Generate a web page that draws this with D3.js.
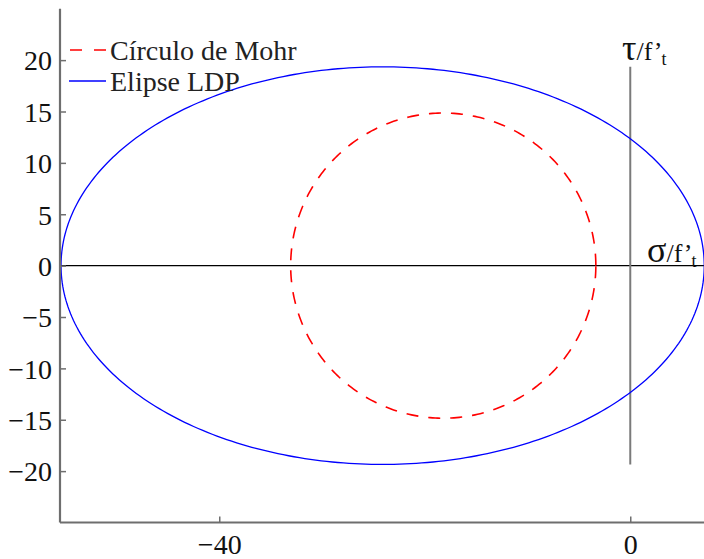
<!DOCTYPE html>
<html>
<head>
<meta charset="utf-8">
<script src="https://cdn.jsdelivr.net/npm/d3@7"></script>
<style>
  html, body { margin: 0; padding: 0; background: #fff; }
  svg { display: block; }
  text { font-family: "Liberation Serif", "Times New Roman", serif; }
</style>
</head>
<body>
<svg id="chart" width="704" height="559"></svg>
<script>
// Axis limits (σ/f't horizontally, τ/f't vertically, equal aspect)
const xDomain = [-55.5, 7.3];
const yDomain = [-25, 25];
const xTicks = [-40, 0];
const yTicks = [-20, -15, -10, -5, 0, 5, 10, 15, 20];

// Mohr circle: principal stresses σ3, σ1
const mohrPrincipal = [-33.05, -3.35];
// LDP ellipse: σ extent and maximum τ
const ellipseSigma = [-55.4, 7.2];
const ellipseTauMax = [19.35];
// τ-axis segment drawn at σ = 0
const tauAxisRange = [-19.35, 19.35];

const legendLabels = ["Círculo de Mohr", "Elipse LDP"];

const serif = "'Liberation Serif', 'Times New Roman', serif";
const svg = d3.select("#chart");
const x = d3.scaleLinear().domain(xDomain).range([60, 60 + (xDomain[1] - xDomain[0]) * 10.275]);
const y = d3.scaleLinear().domain(yDomain).range([522.5, 522.5 - (yDomain[1] - yDomain[0]) * 10.275]);

const line = d3.line().x(d => x(d[0])).y(d => y(d[1]));
const angles = d3.range(0, 361, 1).map(a => a * Math.PI / 180);

// σ axis (horizontal, black)
svg.append("line")
  .attr("x1", x(ellipseSigma[0])).attr("x2", 704)
  .attr("y1", y(0)).attr("y2", y(0))
  .attr("stroke", "#000").attr("stroke-width", 1.4);

// τ axis (vertical, grey)
svg.append("line")
  .attr("x1", x(0)).attr("x2", x(0))
  .attr("y1", y(tauAxisRange[1])).attr("y2", y(tauAxisRange[0]))
  .attr("stroke", "#7a7a7a").attr("stroke-width", 2);

// LDP ellipse
const ec = (ellipseSigma[0] + ellipseSigma[1]) / 2;
const ea = (ellipseSigma[1] - ellipseSigma[0]) / 2;
const eb = ellipseTauMax[0];
svg.append("path")
  .datum(angles.map(t => [ec + ea * Math.cos(t), eb * Math.sin(t)]))
  .attr("d", line)
  .attr("fill", "none").attr("stroke", "#0000ff").attr("stroke-width", 1.3);

// Mohr circle
const mc = (mohrPrincipal[0] + mohrPrincipal[1]) / 2;
const mr = (mohrPrincipal[1] - mohrPrincipal[0]) / 2;
svg.append("path")
  .datum(angles.map(t => [mc + mr * Math.cos(t), mr * Math.sin(t)]))
  .attr("d", line)
  .attr("fill", "none").attr("stroke", "#ff0000").attr("stroke-width", 1.6)
  .attr("stroke-dasharray", "12,10");

// Frame axes (left and bottom), ticks pointing inward
const axisColor = "#6e6e6e";
const fmt = d => d < 0 ? "\u2212" + Math.abs(d) : String(d);
const yAxis = d3.axisLeft(y).tickValues(yTicks).tickSizeInner(-6).tickSizeOuter(0).tickFormat(fmt);
const gy = svg.append("g").attr("transform", "translate(60,0)").call(yAxis)
  .attr("font-family", serif).attr("font-size", 28);
gy.select(".domain").attr("stroke", axisColor).attr("stroke-width", 2.2)
  .attr("d", `M0,${y(yDomain[1])}V${y(yDomain[0])}`);
gy.selectAll(".tick line").attr("stroke", axisColor).attr("stroke-width", 1.5);
gy.selectAll(".tick text")
  .attr("x", -8).attr("dy", "0.35em").attr("fill", "#111");

const xAxis = d3.axisBottom(x).tickValues(xTicks).tickSizeInner(-6).tickSizeOuter(0).tickFormat(fmt);
const gx = svg.append("g").attr("transform", "translate(0,522.5)").call(xAxis)
  .attr("font-family", serif).attr("font-size", 28);
gx.select(".domain").attr("stroke", axisColor).attr("stroke-width", 2.2)
  .attr("d", `M${x(xDomain[0])},0H704`);
gx.selectAll(".tick line").attr("stroke", axisColor).attr("stroke-width", 1.5);
gx.selectAll(".tick text")
  .attr("y", 31).attr("dy", "0").attr("fill", "#111");

// Axis labels τ/f't and σ/f't
function axisLabel(sym, px, py) {
  const t = svg.append("text").attr("x", px).attr("y", py).attr("fill", "#111")
    .attr("font-family", serif);
  t.append("tspan").text(sym).attr("font-size", 36);
  t.append("tspan").text("/f\u2019").attr("font-size", 26);
  t.append("tspan").text("t").attr("font-size", 18).attr("dx", -1).attr("dy", 5);
}
axisLabel("\u03c4", 622, 60);
axisLabel("\u03c3", 647, 262);

// Legend
const legend = svg.append("g").attr("font-family", serif);
legend.append("line").attr("x1", 70).attr("x2", 106).attr("y1", 50).attr("y2", 50)
  .attr("stroke", "#ff0000").attr("stroke-width", 1.6).attr("stroke-dasharray", "12,12");
legend.append("line").attr("x1", 69).attr("x2", 106).attr("y1", 81).attr("y2", 81)
  .attr("stroke", "#0000ff").attr("stroke-width", 1.3);
legend.selectAll("text.lg").data(legendLabels).enter().append("text")
  .attr("class", "lg")
  .attr("x", 110).attr("y", (d, i) => 60 + i * 31)
  .attr("fill", "#222").attr("font-size", 28)
  .text(d => d);
</script>
</body>
</html>
